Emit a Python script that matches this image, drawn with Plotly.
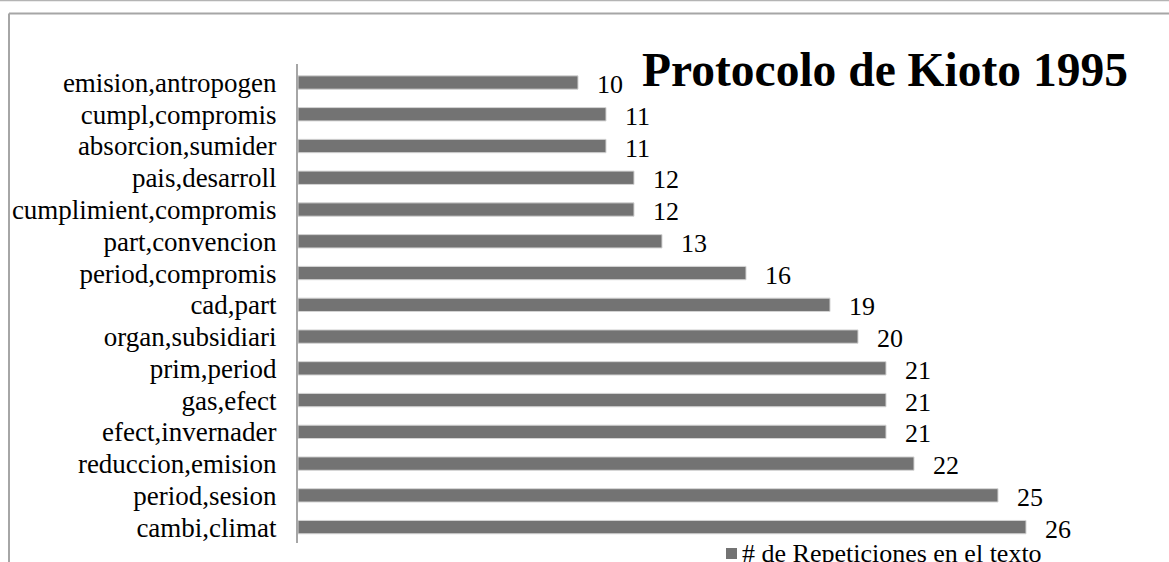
import plotly.graph_objects as go

# Bigram frequencies, listed top to bottom as drawn
categories = [
    "emision,antropogen", "cumpl,compromis", "absorcion,sumider", "pais,desarroll",
    "cumplimient,compromis", "part,convencion", "period,compromis", "cad,part",
    "organ,subsidiari", "prim,period", "gas,efect", "efect,invernader",
    "reduccion,emision", "period,sesion", "cambi,climat",
]
values = [10, 11, 11, 12, 12, 13, 16, 19, 20, 21, 21, 21, 22, 25, 26]
series_name = "# de Repeticiones en el texto"
title_text = "Protocolo de Kioto 1995"

W, H = 1169, 562
L, R, T, B = 298, 31, 64, 19
PW, PH = W - L - R, H - T - B
SERIF = "Liberation Serif, Times New Roman, serif"
BAR = "#737373"


def px_x(px):
    return (px - L) / PW


def px_y(py):
    return (H - B - py) / PH


fig = go.Figure(go.Bar(
    x=values, y=categories, orientation="h", name=series_name,
    marker=dict(color=BAR, line=dict(color="#d4d4d4", width=1)),
    width=0.42, showlegend=False,
))

# value labels to the right of each bar
annotations = [
    dict(x=v, y=c, xref="x", yref="y", text=str(v), showarrow=False,
         xanchor="left", xshift=17, yshift=-2,
         font=dict(family=SERIF, size=26, color="black"))
    for c, v in zip(categories, values)
]
annotations.append(dict(
    x=px_x(640), y=px_y(70), xref="paper", yref="paper", text=f"<b>{title_text}</b>",
    showarrow=False, xanchor="left", yanchor="middle",
    font=dict(family=SERIF, size=47.5, color="black")))
annotations.append(dict(
    x=px_x(740), y=px_y(553), xref="paper", yref="paper", text=series_name,
    showarrow=False, xanchor="left", yanchor="middle",
    font=dict(family=SERIF, size=26, color="black")))

shapes = [
    # page rule and chart frame
    dict(type="line", xref="paper", yref="paper", x0=px_x(0), x1=px_x(W),
         y0=px_y(0.5), y1=px_y(0.5), line=dict(color="#b4b4b4", width=1.5)),
    dict(type="line", xref="paper", yref="paper", x0=px_x(9), x1=px_x(W + 5),
         y0=px_y(13.5), y1=px_y(13.5), line=dict(color="#a6a6a6", width=2)),
    dict(type="line", xref="paper", yref="paper", x0=px_x(9), x1=px_x(9),
         y0=px_y(13.5), y1=px_y(H + 5), line=dict(color="#a6a6a6", width=2)),
    # legend swatch
    dict(type="rect", xref="paper", yref="paper", x0=px_x(726), x1=px_x(737),
         y0=px_y(548), y1=px_y(559), fillcolor=BAR, line=dict(width=0)),
]

fig.update_layout(
    width=W, height=H,
    margin=dict(l=L, r=R, t=T, b=B, pad=0),
    paper_bgcolor="white", plot_bgcolor="white",
    annotations=annotations, shapes=shapes,
    bargap=0.58,
)
fig.update_xaxes(range=[0, PW / 28.0], visible=False, showgrid=False, zeroline=False)
fig.update_yaxes(
    autorange="reversed", categoryorder="array", categoryarray=categories,
    tickmode="array", tickvals=categories, ticktext=categories,
    showline=True, linecolor="#a6a6a6", linewidth=2, ticks="",
    ticklabelstandoff=14, showgrid=False, zeroline=False,
    tickfont=dict(family=SERIF, size=27, color="black"),
)

fig.write_html("out.html")
